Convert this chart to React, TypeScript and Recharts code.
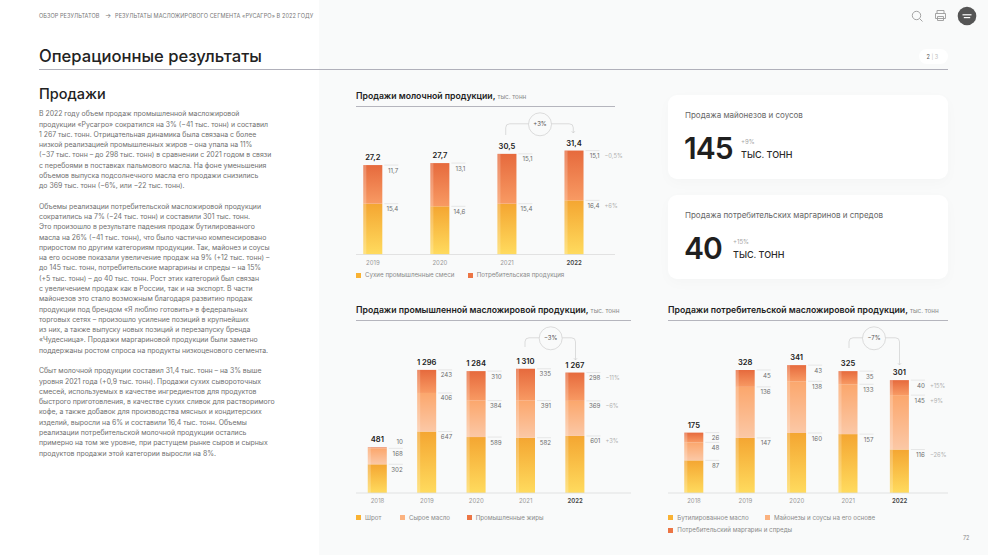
import { BarChart, Bar, XAxis, YAxis, LabelList } from 'recharts';

const FONT = 'Inter, sans-serif';

// Dairy
const dairyYears = ['2019', '2020', '2021', '2022'];
const dairyDry = [15.4, 14.6, 15.4, 16.4];
const dairyConsumer = [11.7, 13.1, 15.1, 15.1];
const dairyTotals = [27.2, 27.7, 30.5, 31.4];
const dairyDeltas = [['', '', '', '+6%'], ['', '', '', '−0,5%']];

// Industrial fats
const indYears = ['2018', '2019', '2020', '2021', '2022'];
const indMeal = [302, 647, 589, 582, 601];
const indOil = [168, 406, 384, 391, 369];
const indFats = [10, 243, 310, 335, 298];
const indTotals = [481, 1296, 1284, 1310, 1267];
const indDeltas = [['', '', '', '', '+3%'], ['', '', '', '', '−6%'], ['', '', '', '', '−11%']];

// Consumer fats
const conYears = ['2018', '2019', '2020', '2021', '2022'];
const conBottled = [87, 147, 160, 157, 116];
const conMayo = [48, 136, 138, 133, 145];
const conMargarine = [26, 45, 43, 35, 40];
const conTotals = [175, 328, 341, 325, 301];
const conDeltas = [['', '', '', '', '−26%'], ['', '', '', '', '+9%'], ['', '', '', '', '+15%']];

const paragraphOne = [
  'В 2022 году объем продаж промышленной масложировой',
  'продукции «Русагро» сократился на 3% (−41 тыс. тонн) и составил',
  '1 267 тыс. тонн. Отрицательная динамика была связана с более',
  'низкой реализацией промышленных жиров – она упала на 11%',
  '(−37 тыс. тонн – до 298 тыс. тонн) в сравнении с 2021 годом в связи',
  'с перебоями в поставках пальмового масла. На фоне уменьшения',
  'объемов выпуска подсолнечного масла его продажи снизились',
  'до 369 тыс. тонн (−6%, или −22 тыс. тонн).',
];
const paragraphTwo = [
  'Объемы реализации потребительской масложировой продукции',
  'сократились на 7% (−24 тыс. тонн) и составили 301 тыс. тонн.',
  'Это произошло в результате падения продаж бутилированного',
  'масла на 26% (−41 тыс. тонн), что было частично компенсировано',
  'приростом по другим категориям продукции. Так, майонез и соусы',
  'на его основе показали увеличение продаж на 9% (+12 тыс. тонн) –',
  'до 145 тыс. тонн, потребительские маргарины и спреды – на 15%',
  '(+5 тыс. тонн) – до 40 тыс. тонн. Рост этих категорий был связан',
  'с увеличением продаж как в России, так и на экспорт. В части',
  'майонезов это стало возможным благодаря развитию продаж',
  'продукции под брендом «Я люблю готовить» в федеральных',
  'торговых сетях – произошло усиление позиций в крупнейших',
  'из них, а также выпуску новых позиций и перезапуску бренда',
  '«Чудесница». Продажи маргариновой продукции были заметно',
  'поддержаны ростом спроса на продукты низкоценового сегмента.',
];
const paragraphThree = [
  'Сбыт молочной продукции составил 31,4 тыс. тонн – на 3% выше',
  'уровня 2021 года (+0,9 тыс. тонн). Продажи сухих сывороточных',
  'смесей, используемых в качестве ингредиентов для продуктов',
  'быстрого приготовления, в качестве сухих сливок для растворимого',
  'кофе, а также добавок для производства мясных и кондитерских',
  'изделий, выросли на 6% и составили 16,4 тыс. тонн. Объемы',
  'реализации потребительской молочной продукции остались',
  'примерно на том же уровне, при растущем рынке сыров и сырных',
  'продуктов продажи этой категории выросли на 8%.',
];

const fmt = (v: number) => {
  if (v >= 1000) return `${Math.floor(v / 1000)}\u00a0${String(v % 1000).padStart(3, '0')}`;
  return String(v).replace('.', ',');
};

function Gradients() {
  return (
    <defs>
      <linearGradient id="gradBase" x1="0" y1="0" x2="0" y2="1">
        <stop offset="0%" stopColor="#F4A632" />
        <stop offset="100%" stopColor="#FFDB5E" />
      </linearGradient>
      <linearGradient id="gradMid" x1="0" y1="0" x2="0" y2="1">
        <stop offset="0%" stopColor="#FBA76D" />
        <stop offset="100%" stopColor="#FBC8A6" />
      </linearGradient>
      <linearGradient id="gradTop" x1="0" y1="0" x2="0" y2="1">
        <stop offset="0%" stopColor="#E66A3D" />
        <stop offset="100%" stopColor="#F89A63" />
      </linearGradient>
    </defs>
  );
}

const segmentShape = (props: any) => {
  const { x, y, width, height, fill } = props;
  return (
    <g>
      <rect x={x} y={y} width={width} height={height} fill={fill} />
      <rect x={x} y={y} width={3} height={height} fill="#fff" opacity={0.22} />
    </g>
  );
};

const segmentLabel = (deltas: string[]) => (props: any) => {
  const { x, y, width, height, value, index } = props;
  const right = x + width;
  const thin = height < 6;
  return (
    <g fontFamily={FONT}>
      {!thin && <line x1={right + 2} x2={right + 16} y1={y} y2={y} stroke="#dedede" strokeWidth={0.7} />}
      <text x={right + 16} y={thin ? y - 3 : y + 7.5} textAnchor="end" fontSize={6.2} fill="#6e6e6e">
        {fmt(value)}
      </text>
      {deltas[index] && (
        <text x={right + 21} y={y + 7.5} fontSize={5.8} fill="#b0b0b0">
          {deltas[index]}
        </text>
      )}
    </g>
  );
};

const totalLabel = (props: any) => {
  const { x, y, width, value } = props;
  return (
    <text x={x + width / 2} y={y - 5} textAnchor="middle" fontFamily={FONT} fontSize={7.6} fontWeight={600} fill="#222">
      {fmt(value)}
    </text>
  );
};

const yearTick = (lastIndex: number) => (props: any) => {
  const { x, y, payload, index } = props;
  const last = index === lastIndex;
  return (
    <text x={x} y={y + 2} textAnchor="middle" fontFamily={FONT} fontSize={6} fontWeight={last ? 600 : 400} fill={last ? '#444' : '#999'}>
      {payload.value}
    </text>
  );
};

function StackChart({ left, top, width, plotHeight, domainMax, padLeft, padRight, years, series, totals, deltas }: any) {
  const marginTop = 30;
  const marginRight = 34;
  const axisHeight = 20;
  const data = years.map((year: string, i: number) => {
    const row: any = { year, total: totals[i] };
    series.forEach((s: any, n: number) => {
      row[`s${n}`] = s.values[i];
    });
    return row;
  });
  return (
    <div style={{ position: 'absolute', left, top: top - marginTop }}>
      <BarChart
        width={width + marginRight}
        height={plotHeight + marginTop + axisHeight}
        data={data}
        margin={{ top: marginTop, right: marginRight, bottom: 0, left: 0 }}
        barSize={19}
      >
        <Gradients />
        <XAxis
          dataKey="year"
          height={axisHeight}
          padding={{ left: padLeft, right: padRight }}
          axisLine={{ stroke: '#dcdcdc', strokeWidth: 0.8 }}
          tickLine={false}
          tick={yearTick(years.length - 1)}
          interval={0}
        />
        <YAxis hide domain={[0, domainMax]} />
        {series.map((s: any, n: number) => (
          <Bar key={n} dataKey={`s${n}`} stackId="a" fill={`url(#${s.grad})`} shape={segmentShape} isAnimationActive={false}>
            <LabelList dataKey={`s${n}`} content={segmentLabel(deltas[n])} />
            {n === series.length - 1 && <LabelList dataKey="total" content={totalLabel} />}
          </Bar>
        ))}
      </BarChart>
    </div>
  );
}

function Txt({ x, y, size, weight = 400, color = '#333', children, spacing }: any) {
  return (
    <div
      style={{
        position: 'absolute',
        left: x,
        top: y - 10,
        height: 20,
        lineHeight: '20px',
        fontSize: size,
        fontWeight: weight,
        color,
        whiteSpace: 'nowrap',
        letterSpacing: spacing,
      }}
    >
      {children}
    </div>
  );
}

function Paragraph({ y, lines }: any) {
  return (
    <>
      {lines.map((line: string, i: number) => (
        <Txt key={i} x={39} y={y + i * 10.28} size={6.9} color="#707070">
          {line}
        </Txt>
      ))}
    </>
  );
}

function ChartTitle({ x, y, title, lineEnd }: any) {
  return (
    <>
      <Txt x={x} y={y} size={8.7} weight={600} color="#222">
        {title}, <span style={{ fontSize: 6.3, fontWeight: 400, color: '#888' }}>тыс. тонн</span>
      </Txt>
      <div style={{ position: 'absolute', left: x, top: y + 10, width: lineEnd - x, height: 1, background: '#b5b5bd' }} />
    </>
  );
}

function LegendItem({ x, y, color, label }: any) {
  return (
    <>
      <div style={{ position: 'absolute', left: x, top: y - 2.5, width: 5, height: 5, background: color }} />
      <Txt x={x + 9} y={y} size={6.2} color="#8a8a8a">
        {label}
      </Txt>
    </>
  );
}

function Bubble({ cx, cy, lx, ly, rx, ry, label }: any) {
  const line = cy - 0.5;
  return (
    <>
      <svg style={{ position: 'absolute', left: 0, top: 0 }} width={988} height={555}>
        <g fill="none" stroke="#cfcfcf" strokeWidth={0.7}>
          <circle cx={cx} cy={cy} r={11.5} />
          <path d={`M${lx} ${ly} V${line + 4} Q${lx} ${line} ${lx + 4} ${line} H${cx - 11.5}`} />
          <path d={`M${cx + 11.5} ${line} H${rx - 4} Q${rx} ${line} ${rx} ${line + 4} V${ry}`} />
          <path d={`M${rx - 1.6} ${ry - 1.8} L${rx} ${ry} L${rx + 1.6} ${ry - 1.8}`} />
        </g>
      </svg>
      <div
        style={{
          position: 'absolute',
          left: cx - 12,
          top: cy - 5,
          width: 24,
          textAlign: 'center',
          lineHeight: '10px',
          fontSize: 6,
          color: '#555',
        }}
      >
        {label}
      </div>
    </>
  );
}

function Card({ top, title, value, delta, unitX }: any) {
  return (
    <>
      <div
        style={{
          position: 'absolute',
          left: 668,
          top,
          width: 280,
          height: 84,
          background: '#fff',
          borderRadius: 9,
          boxShadow: '0 4px 14px rgba(0,0,0,0.025)',
        }}
      />
      <Txt x={685} y={top + 19.5} size={8} color="#666">
        {title}
      </Txt>
      <Txt x={684} y={top + 53} size={30} weight={600} color="#1f1f1f" spacing={-1}>
        {value}
      </Txt>
      <Txt x={unitX} y={top + 47} size={6} color="#a5a5a5">
        {delta}
      </Txt>
      <Txt x={unitX} y={top + 60} size={9} weight={500} color="#2a2a2a">
        ТЫС. ТОНН
      </Txt>
    </>
  );
}

export default function App() {
  return (
    <div
      style={{
        position: 'absolute',
        left: 0,
        top: 0,
        width: 988,
        height: 555,
        overflow: 'hidden',
        background: '#F9FAFA',
        fontFamily: FONT,
      }}
    >
      <div style={{ position: 'absolute', left: 0, top: 0, width: 319, height: 555, background: '#fff' }} />

      <Txt x={39} y={15.5} size={5.6} color="#777" spacing={0.03}>
        ОБЗОР РЕЗУЛЬТАТОВ
      </Txt>
      <Txt x={105} y={15.5} size={6.5} color="#777">
        →
      </Txt>
      <Txt x={115} y={15.5} size={5.6} color="#777" spacing={0.06}>
        РЕЗУЛЬТАТЫ МАСЛОЖИРОВОГО СЕГМЕНТА «РУСАГРО» В 2022 ГОДУ
      </Txt>

      <Txt x={39} y={56} size={16.6} weight={500} color="#222">
        Операционные результаты
      </Txt>
      <div style={{ position: 'absolute', left: 39, top: 69, width: 909, height: 1, background: '#b0b0ba' }} />

      <Txt x={39} y={94} size={14.5} weight={500} color="#222">
        Продажи
      </Txt>
      <Paragraph y={114.3} lines={paragraphOne} />
      <Paragraph y={206.7} lines={paragraphTwo} />
      <Paragraph y={371.3} lines={paragraphThree} />

      <svg style={{ position: 'absolute', left: 0, top: 0 }} width={988} height={40}>
        <g fill="none" stroke="#9a9a9a" strokeWidth={0.9}>
          <circle cx={916.5} cy={15.5} r={4.2} />
          <path d="M919.6 18.6 L922.5 21.5" />
          <path d="M937 13.5 V10.5 H944 V13.5 M935.5 13.5 H945.5 V18.5 H935.5 Z M937.5 16.5 H943.5 V20.5 H937.5 Z" />
        </g>
        <circle cx={967} cy={16} r={9.3} fill="#555" />
        <rect x={962.5} y={14.2} width={9} height={1.2} fill="#fff" />
        <rect x={963.8} y={17} width={6.4} height={1.2} fill="#fff" />
      </svg>
      <div style={{ position: 'absolute', left: 919, top: 49, width: 29, height: 15, borderRadius: 8, background: '#fff' }} />
      <Txt x={926.5} y={56.5} size={5.5} color="#555">
        2 <span style={{ color: '#bbb' }}>| 3</span>
      </Txt>

      <ChartTitle x={356} y={96} title="Продажи молочной продукции" lineEnd={615} />
      <StackChart
        left={356}
        top={138.8}
        width={259}
        plotHeight={115.5}
        domainMax={35}
        padLeft={-16.7}
        padRight={7.4}
        years={dairyYears}
        series={[
          { values: dairyDry, grad: 'gradBase' },
          { values: dairyConsumer, grad: 'gradTop' },
        ]}
        totals={dairyTotals}
        deltas={dairyDeltas}
      />
      <Bubble cx={540} cy={124.3} lx={505.7} ly={135} rx={573.3} ry={133} label="+3%" />
      <LegendItem x={356} y={275.3} color="#F9B233" label="Сухие промышленные смеси" />
      <LegendItem x={467.7} y={275.3} color="#EC7544" label="Потребительская продукция" />

      <ChartTitle x={356} y={310} title="Продажи промышленной масложировой продукции" lineEnd={631} />
      <StackChart
        left={356}
        top={343.3}
        width={275}
        plotHeight={150}
        domainMax={1579}
        padLeft={-3.2}
        padRight={31.2}
        years={indYears}
        series={[
          { values: indMeal, grad: 'gradBase' },
          { values: indOil, grad: 'gradMid' },
          { values: indFats, grad: 'gradTop' },
        ]}
        totals={indTotals}
        deltas={indDeltas}
      />
      <Bubble cx={550.7} cy={338.3} lx={525} ly={347} rx={575.5} ry={360} label="−3%" />
      <LegendItem x={356} y={517.7} color="#F9B233" label="Шрот" />
      <LegendItem x={400} y={517.7} color="#FBB27F" label="Сырое масло" />
      <LegendItem x={466.7} y={517.7} color="#EC7544" label="Промышленные жиры" />

      <ChartTitle x={668} y={310} title="Продажи потребительской масложировой продукции" lineEnd={948} />
      <StackChart
        left={668}
        top={343.3}
        width={280}
        plotHeight={150}
        domainMax={400}
        padLeft={0.3}
        padRight={22.7}
        years={conYears}
        series={[
          { values: conBottled, grad: 'gradBase' },
          { values: conMayo, grad: 'gradMid' },
          { values: conMargarine, grad: 'gradTop' },
        ]}
        totals={conTotals}
        deltas={conDeltas}
      />
      <Bubble cx={874} cy={338.3} lx={849} ly={348} rx={899.5} ry={365} label="−7%" />
      <LegendItem x={668.3} y={517.7} color="#F9B233" label="Бутилированное масло" />
      <LegendItem x={765} y={517.7} color="#FBB27F" label="Майонезы и соусы на его основе" />
      <LegendItem x={668.3} y={530.3} color="#EC7544" label="Потребительский маргарин и спреды" />

      <Card top={95} title="Продажа майонезов и соусов" value="145" delta="+9%" unitX={741} />
      <Card top={195} title="Продажа потребительских маргаринов и спредов" value="40" delta="+15%" unitX={733} />

      <Txt x={963} y={538} size={5.5} color="#888">
        72
      </Txt>
    </div>
  );
}
